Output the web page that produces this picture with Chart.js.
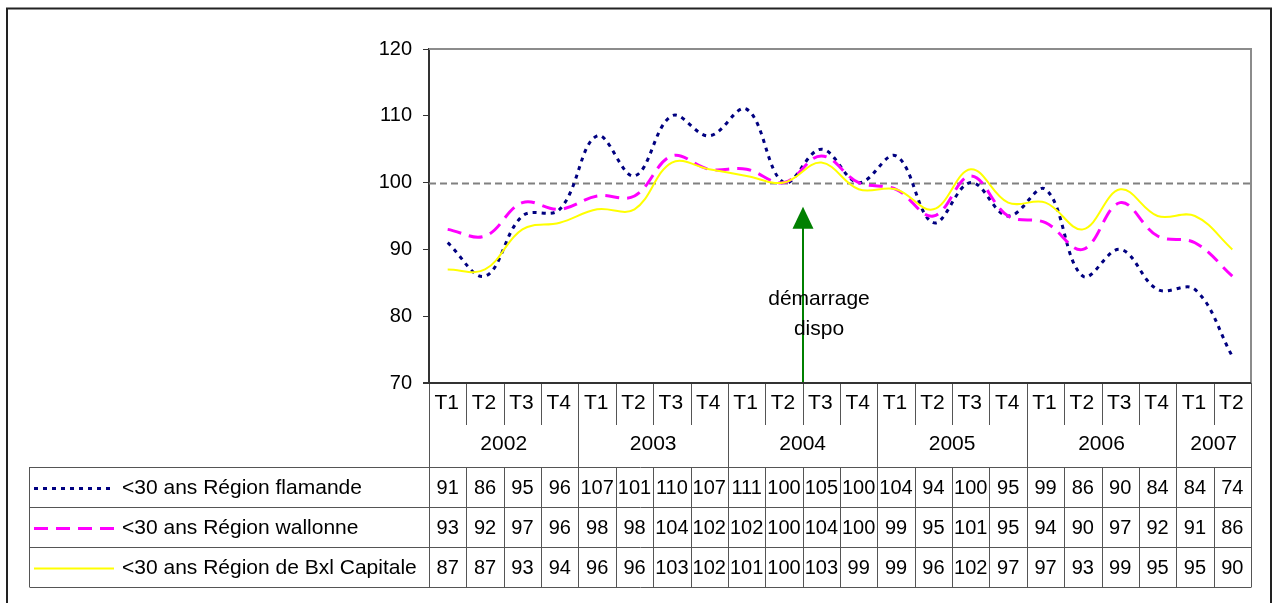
<!DOCTYPE html>
<html>
<head>
<meta charset="utf-8">
<script src="https://cdn.jsdelivr.net/npm/chart.js@4"></script>
<style>
  body { margin: 0; background: #fff; }
  canvas { display: block; }
</style>
</head>
<body>
<canvas id="lineChart" width="1274" height="603"></canvas>
<script>
// data
const quarters = ['T1','T2','T3','T4','T1','T2','T3','T4','T1','T2','T3','T4',
                  'T1','T2','T3','T4','T1','T2','T3','T4','T1','T2'];
const years = ['2002','2003','2004','2005','2006','2007'];
const yearSpans = [4, 4, 4, 4, 4, 2];

const flamande = [91,86,95,96,107,101,110,107,111,100,105,100,104,94,100,95,99,86,90,84,84,74];
const wallonne = [93,92,97,96,98,98,104,102,102,100,104,100,99,95,101,95,94,90,97,92,91,86];
const bxl      = [87,87,93,94,96,96,103,102,101,100,103,99,99,96,102,97,97,93,99,95,95,90];

const seriesNames = ['<30 ans Région flamande', '<30 ans Région wallonne', '<30 ans Région de Bxl Capitale'];

const yMin = 70, yMax = 120, yStep = 10;
const refLine = 100;

// arrow "démarrage dispo" between 2004 T2 and T3
const arrowIndex = 9.5;
const arrowValue = 96.4;
const arrowText = ['démarrage', 'dispo'];
const arrowTextValues = [82.5, 78];

const FAMILY = '"Liberation Sans", Arial, sans-serif';
const FONT = '21px ' + FAMILY;
const NUM_FONT = '20px ' + FAMILY;

const refLinePlugin = {
    id: 'refLine',
    beforeDatasetsDraw(chart) {
        const { ctx, chartArea: a, scales: { y } } = chart;
        const py = Math.round(y.getPixelForValue(refLine)) + 0.5;
        ctx.save();
        ctx.strokeStyle = '#808080';
        ctx.lineWidth = 2;
        ctx.setLineDash([7, 4]);
        ctx.beginPath();
        ctx.moveTo(a.left, py);
        ctx.lineTo(a.right, py);
        ctx.stroke();
        ctx.restore();

        // plot border (top / right)
        ctx.save();
        ctx.strokeStyle = '#8c8c8c';
        ctx.lineWidth = 2;
        ctx.beginPath();
        ctx.moveTo(a.left, a.top);
        ctx.lineTo(a.right, a.top);
        ctx.lineTo(a.right, a.bottom);
        ctx.stroke();
        ctx.restore();
    }
};

const arrowPlugin = {
    id: 'arrow',
    afterDatasetsDraw(chart) {
        const { ctx, chartArea: a, scales: { x, y } } = chart;
        const i0 = Math.floor(arrowIndex), i1 = Math.ceil(arrowIndex);
        const ax = Math.round((x.getPixelForValue(i0) + x.getPixelForValue(i1)) / 2);
        const tip = y.getPixelForValue(arrowValue);
        ctx.save();
        ctx.strokeStyle = '#008000';
        ctx.fillStyle = '#008000';
        ctx.lineWidth = 2;
        ctx.beginPath();
        ctx.moveTo(ax, a.bottom);
        ctx.lineTo(ax, tip + 20);
        ctx.stroke();
        ctx.beginPath();
        ctx.moveTo(ax, tip);
        ctx.lineTo(ax - 10.5, tip + 22);
        ctx.lineTo(ax + 10.5, tip + 22);
        ctx.closePath();
        ctx.fill();

        ctx.fillStyle = '#000';
        ctx.font = FONT;
        ctx.textAlign = 'center';
        ctx.textBaseline = 'middle';
        arrowText.forEach((t, k) => {
            ctx.fillText(t, ax + 16, y.getPixelForValue(arrowTextValues[k]));
        });
        ctx.restore();
    }
};

const tablePlugin = {
    id: 'dataTable',
    afterDraw(chart) {
        const { ctx, chartArea: a, scales: { x } } = chart;
        const n = quarters.length;
        const colW = a.width / n;
        const edge = i => Math.round(a.left + i * colW) + 0.5;
        const qBottom = a.bottom + 42;
        const yBottom = a.bottom + 84;
        const rowH = 40;
        const legendLeft = 29.5;
        const tableBottom = yBottom + rowH * 3;

        ctx.save();
        // outer frame
        ctx.strokeStyle = '#222';
        ctx.lineWidth = 2;
        ctx.beginPath();
        ctx.moveTo(7, 640);
        ctx.lineTo(7, 8.5);
        ctx.lineTo(1271, 8.5);
        ctx.lineTo(1271, 640);
        ctx.stroke();

        ctx.strokeStyle = '#555';
        ctx.lineWidth = 1;
        ctx.beginPath();
        // quarter separators
        for (let i = 1; i < n; i++) {
            ctx.moveTo(edge(i), a.bottom);
            ctx.lineTo(edge(i), qBottom);
        }
        // year separators
        let c = 0;
        yearSpans.forEach(s => {
            c += s;
            if (c < n) {
                ctx.moveTo(edge(c), qBottom);
                ctx.lineTo(edge(c), yBottom);
            }
        });
        // cells of series rows
        for (let i = 1; i < n; i++) {
            ctx.moveTo(edge(i), yBottom);
            ctx.lineTo(edge(i), tableBottom);
        }
        // left / right edges
        ctx.moveTo(edge(0), a.bottom);
        ctx.lineTo(edge(0), tableBottom);
        ctx.moveTo(edge(n), a.bottom);
        ctx.lineTo(edge(n), tableBottom);
        ctx.moveTo(legendLeft, yBottom);
        ctx.lineTo(legendLeft, tableBottom);
        // horizontal rules
        for (let r = 0; r <= 3; r++) {
            const py = yBottom + r * rowH + 0.5;
            ctx.moveTo(legendLeft, py);
            ctx.lineTo(edge(n), py);
        }
        ctx.stroke();

        // axis line
        ctx.strokeStyle = '#333';
        ctx.lineWidth = 2;
        ctx.beginPath();
        ctx.moveTo(a.left - 6, a.bottom);
        ctx.lineTo(a.right, a.bottom);
        ctx.stroke();

        // labels
        ctx.fillStyle = '#000';
        ctx.font = FONT;
        ctx.textAlign = 'center';
        ctx.textBaseline = 'middle';
        quarters.forEach((q, i) => {
            ctx.fillText(q, x.getPixelForValue(i) - 1, a.bottom + 20);
        });
        c = 0;
        years.forEach((yr, k) => {
            const mid = a.left + (c + yearSpans[k] / 2) * colW;
            ctx.fillText(yr, mid, a.bottom + 61);
            c += yearSpans[k];
        });

        ctx.font = NUM_FONT;
        const series = [flamande, wallonne, bxl];
        series.forEach((vals, r) => {
            const cy = yBottom + r * rowH + 21;
            vals.forEach((v, i) => ctx.fillText(String(v), x.getPixelForValue(i), cy));
        });

        // legend keys
        const ds = chart.data.datasets;
        ctx.font = FONT;
        ctx.textAlign = 'left';
        seriesNames.forEach((name, r) => {
            const cy = yBottom + r * rowH + 21;
            const d = ds[r];
            ctx.save();
            ctx.strokeStyle = d.borderColor;
            ctx.lineWidth = d.borderWidth;
            ctx.setLineDash(d.borderDash || []);
            ctx.beginPath();
            ctx.moveTo(34, Math.round(cy) + 0.5);
            ctx.lineTo(114, Math.round(cy) + 0.5);
            ctx.stroke();
            ctx.restore();
            ctx.fillText(name, 122, cy);
        });
        ctx.restore();
    }
};

new Chart(document.getElementById('lineChart').getContext('2d'), {
    type: 'line',
    data: {
        labels: quarters,
        datasets: [
            {
                label: seriesNames[0],
                data: flamande,
                borderColor: '#000080',
                borderWidth: 3,
                borderDash: [4, 5],
                pointRadius: 0,
                tension: 0.38,
                order: 3
            },
            {
                label: seriesNames[1],
                data: wallonne,
                borderColor: '#FF00FF',
                borderWidth: 3,
                borderDash: [14, 8],
                pointRadius: 0,
                tension: 0.38,
                order: 2
            },
            {
                label: seriesNames[2],
                data: bxl,
                borderColor: '#FFFF00',
                borderWidth: 2,
                pointRadius: 0,
                tension: 0.38,
                order: 1
            }
        ]
    },
    options: {
        responsive: false,
        animation: false,
        layout: {
            padding: { left: 0, top: 49, right: 23, bottom: 220 }
        },
        plugins: {
            legend: { display: false },
            tooltip: { enabled: false }
        },
        scales: {
            x: {
                display: false,
                offset: true
            },
            y: {
                min: yMin,
                max: yMax,
                ticks: {
                    stepSize: yStep,
                    color: '#000',
                    padding: 11,
                    font: { family: FAMILY, size: 20 }
                },
                grid: {
                    drawOnChartArea: false,
                    drawTicks: true,
                    tickLength: 6,
                    color: '#333'
                },
                border: { display: true, color: '#333', width: 2 },
                afterFit: scale => { scale.width = 429; }
            }
        }
    },
    plugins: [refLinePlugin, arrowPlugin, tablePlugin]
});
</script>
</body>
</html>
